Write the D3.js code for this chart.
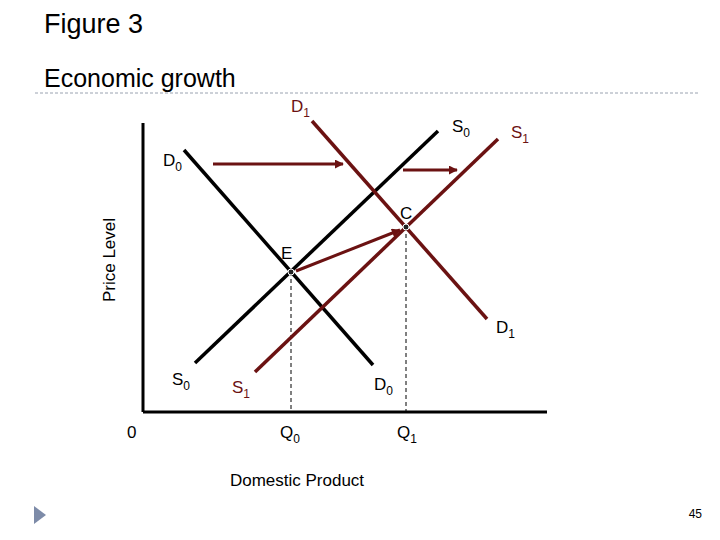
<!DOCTYPE html>
<html><head><meta charset="utf-8">
<script src="https://cdn.jsdelivr.net/npm/d3@7"></script>
<style>body{margin:0;background:#fff}svg{font-family:Arial,"Liberation Sans",sans-serif}</style>
</head><body>
<script>
// curves in quantity / price units (origin at the axes corner)
const curveNames = ["D0", "S0", "S1", "D1"];
const curveQ = [[41, 230], [52, 295], [112, 355], [169, 344]];
const curveP = [[262, 47], [49, 281], [40, 273], [291, 93]];
const curveColor = ["#000", "#000", "#6b1212", "#6b1212"];
const pointNames = ["E", "C"];
const pointQ = [148, 263];
const pointP = [140, 185];
const shiftArrows = [[[70, 248], [200, 248]], [[260, 242], [314, 242]], [[153, 141], [257, 182]]];

const W = 720, H = 540;
const x = d3.scaleLinear().domain([0, 404]).range([143, 547]);
const y = d3.scaleLinear().domain([0, 289]).range([412, 123]);
const red = "#6b1212";

const svg = d3.select("body").append("svg").attr("width", W).attr("height", H);

svg.append("defs").append("marker").attr("id", "ah")
  .attr("viewBox", "0 0 10 10").attr("refX", 9).attr("refY", 5)
  .attr("markerWidth", 3).attr("markerHeight", 3).attr("orient", "auto")
  .append("path").attr("d", "M0,0L10,5L0,10z").attr("fill", red);

svg.append("text").attr("x", 44).attr("y", 33).attr("font-size", 27).text("Figure 3");
svg.append("text").attr("x", 44).attr("y", 87).attr("font-size", 25).text("Economic growth");
svg.append("line").attr("x1", 35).attr("x2", 700).attr("y1", 93).attr("y2", 93)
  .attr("stroke", "#9aa2b0").attr("stroke-dasharray", "3,2");

// axes
svg.append("line").attr("x1", x(0)).attr("x2", x(0)).attr("y1", y(289)).attr("y2", y(0)).attr("stroke", "#000").attr("stroke-width", 3);
svg.append("line").attr("x1", x(0)).attr("x2", x(404)).attr("y1", y(0)).attr("y2", y(0)).attr("stroke", "#000").attr("stroke-width", 3);

// dashed drop lines
pointNames.forEach((n, i) => {
  svg.append("line").attr("x1", x(pointQ[i])).attr("x2", x(pointQ[i]))
    .attr("y1", y(pointP[i])).attr("y2", y(0))
    .attr("stroke", "#000").attr("stroke-dasharray", "4,3").attr("stroke-width", 1);
});

curveNames.forEach((n, i) => {
  svg.append("line")
    .attr("x1", x(curveQ[i][0])).attr("y1", y(curveP[i][0]))
    .attr("x2", x(curveQ[i][1])).attr("y2", y(curveP[i][1]))
    .attr("stroke", curveColor[i]).attr("stroke-width", 3.5);
});

shiftArrows.forEach(a => {
  svg.append("line").attr("x1", x(a[0][0])).attr("y1", y(a[0][1]))
    .attr("x2", x(a[1][0])).attr("y2", y(a[1][1]))
    .attr("stroke", red).attr("stroke-width", 3).attr("marker-end", "url(#ah)");
});

pointNames.forEach((n, i) => {
  svg.append("circle").attr("cx", x(pointQ[i])).attr("cy", y(pointP[i])).attr("r", 3)
    .attr("fill", "#222").attr("stroke", "#fff").attr("stroke-width", 1);
});

function sub(px, py, main, s, color) {
  const t = svg.append("text").attr("x", px).attr("y", py).attr("font-size", 17).attr("fill", color || "#000");
  t.append("tspan").text(main);
  t.append("tspan").attr("font-size", 12).attr("dy", 5).text(s);
}
sub(163, 166, "D", "0");
sub(291, 112, "D", "1", red);
sub(452, 132, "S", "0");
sub(511, 138, "S", "1", red);
sub(172, 385, "S", "0");
sub(232, 393, "S", "1", red);
sub(374, 390, "D", "0");
sub(496, 333, "D", "1");
sub(280, 438, "Q", "0");
sub(397, 438, "Q", "1");
svg.append("text").attr("x", 400).attr("y", 219).attr("font-size", 17).text("C");
svg.append("text").attr("x", 281).attr("y", 259).attr("font-size", 17).text("E");
svg.append("text").attr("x", 127).attr("y", 438).attr("font-size", 17).text("0");
svg.append("text").attr("transform", "translate(115,260) rotate(-90)").attr("text-anchor", "middle")
  .attr("font-size", 17).text("Price Level");
svg.append("text").attr("x", 297).attr("y", 486).attr("text-anchor", "middle").attr("font-size", 17).text("Domestic Product");

svg.append("path").attr("d", "M34,506L46,515L34,524z").attr("fill", "#7d8ba8");
svg.append("text").attr("x", 702).attr("y", 518).attr("text-anchor", "end").attr("font-size", 12).text("45");
</script>
</body></html>
